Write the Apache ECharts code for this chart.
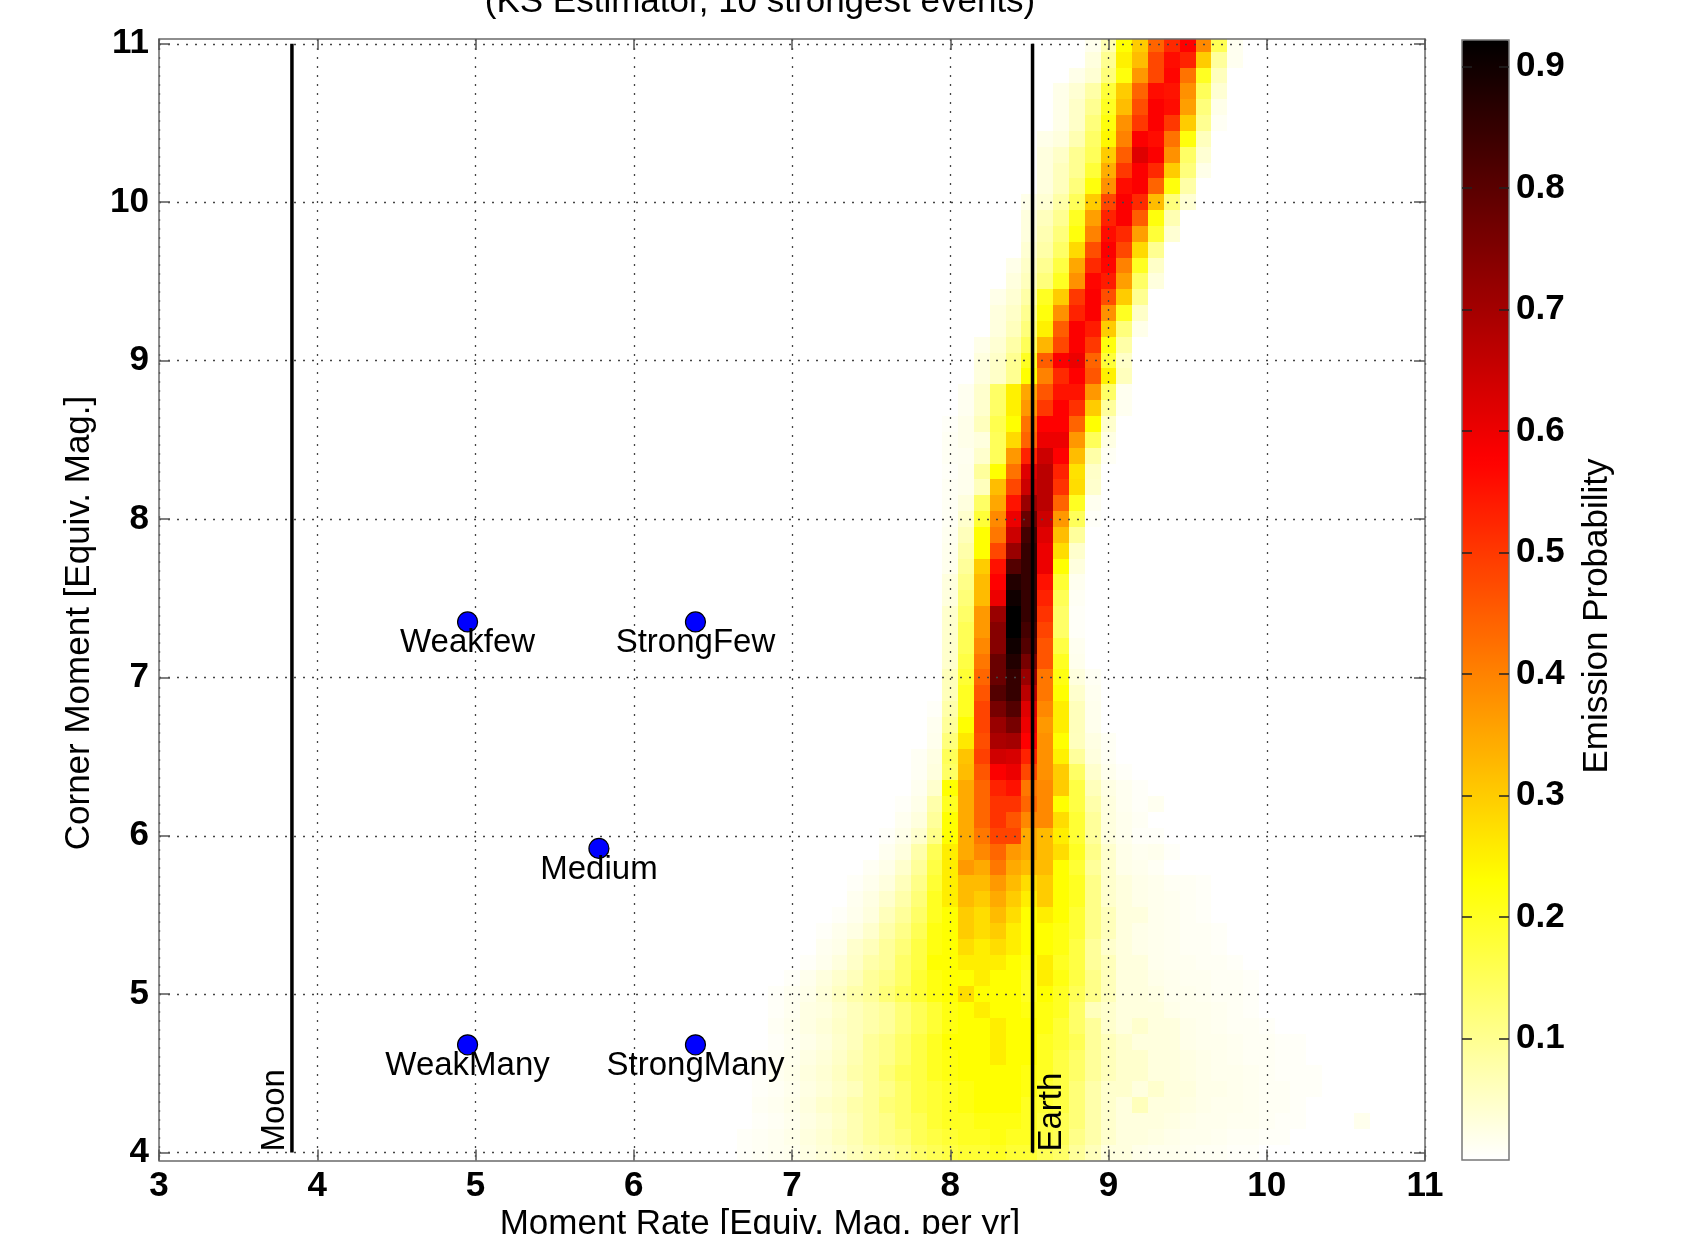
<!DOCTYPE html>
<html>
<head>
<meta charset="utf-8">
<script src="https://cdn.jsdelivr.net/npm/echarts@6/dist/echarts.min.js"></script>
<style>
html,body{margin:0;padding:0;background:#ffffff;}
#chart{width:1700px;height:1234px;}
</style>
</head>
<body>
<div id="chart"></div>
<script>
// ---------------- data ----------------
const titleText = '(KS Estimator, 10 strongest events)';
const xAxisTitle = 'Moment Rate [Equiv. Mag. per yr]';
const yAxisTitle = 'Corner Moment [Equiv. Mag.]';
const cbTitle = 'Emission Probability';

const xTicks = [3, 4, 5, 6, 7, 8, 9, 10, 11];
const yTicks = [4, 5, 6, 7, 8, 9, 10, 11];
const cbTicks = [0.1, 0.2, 0.3, 0.4, 0.5, 0.6, 0.7, 0.8, 0.9];
const xRange = [3, 11];
const yRange = [3.95, 11.03];
const probRange = [0, 0.922];
const cellStep = 0.1;

// heat-map rows: centre y of the row, x of first cell, cell probabilities (step 0.1 in x)
const rowY = [11.0,10.9,10.8,10.7,10.6,10.5,10.4,10.3,10.2,10.1,10.0,9.9,9.8,9.7,9.6,9.5,9.4,9.3,9.2,9.1,9.0,8.9,8.8,8.7,8.6,8.5,8.4,8.3,8.2,8.1,8.0,7.9,7.8,7.7,7.6,7.5,7.4,7.3,7.2,7.1,7.0,6.9,6.8,6.7,6.6,6.5,6.4,6.3,6.2,6.1,6.0,5.9,5.8,5.7,5.6,5.5,5.4,5.3,5.2,5.1,5.0,4.9,4.8,4.7,4.6,4.5,4.4,4.3,4.2,4.1,4.0];
const rowX0 = [8.9,8.9,8.8,8.7,8.7,8.7,8.6,8.6,8.6,8.6,8.5,8.5,8.5,8.5,8.4,8.4,8.3,8.3,8.3,8.2,8.2,8.2,8.1,8.1,8.0,8.0,8.0,8.0,8.0,8.0,8.0,8.0,8.0,8.0,8.0,8.0,8.0,8.0,8.0,8.0,8.0,8.0,7.9,7.9,7.9,7.8,7.8,7.8,7.7,7.7,7.6,7.6,7.5,7.4,7.4,7.3,7.2,7.2,7.1,7.0,6.9,6.9,6.9,6.9,6.8,6.8,6.8,6.8,6.8,6.7,6.7];
const rowP = [
[.016,.07,.23,.30,.44,.52,.576,.39,.154,.014],
[.03,.10,.25,.32,.48,.56,.53,.30,.09,.014],
[.02,.04,.12,.22,.37,.48,.57,.42,.20,.06],
[.02,.04,.08,.18,.30,.44,.56,.55,.38,.15,.04],
[.02,.05,.10,.20,.32,.47,.58,.56,.36,.12,.02],
[.02,.05,.12,.22,.38,.50,.58,.50,.30,.10,.01],
[.02,.03,.07,.14,.24,.40,.58,.56,.42,.22,.06],
[.03,.05,.10,.15,.30,.45,.62,.58,.38,.14,.04],
[.03,.06,.10,.18,.34,.50,.58,.52,.30,.12,.02],
[.03,.06,.12,.22,.38,.56,.58,.44,.22,.08],
[.02,.04,.08,.15,.30,.48,.58,.52,.32,.12,.04],
[.03,.06,.10,.20,.36,.53,.58,.45,.22,.07],
[.03,.07,.12,.22,.40,.56,.52,.36,.18,.04],
[.04,.08,.14,.28,.47,.58,.48,.28,.10],
[.02,.05,.10,.17,.35,.52,.57,.40,.20,.05],
[.03,.06,.12,.20,.38,.57,.54,.36,.14,.03],
[.02,.04,.08,.20,.30,.50,.58,.47,.30,.10],
[.03,.05,.10,.22,.38,.53,.58,.38,.20,.05],
[.03,.06,.12,.25,.45,.58,.54,.30,.12,.02],
[.02,.04,.08,.15,.33,.48,.58,.50,.22,.08],
[.03,.05,.10,.20,.45,.58,.60,.44,.18,.05],
[.03,.05,.10,.23,.40,.52,.576,.46,.25,.06],
[.014,.045,.14,.25,.35,.46,.55,.55,.37,.14,.014],
[.014,.045,.14,.25,.37,.50,.576,.51,.30,.09,.014],
[.006,.02,.06,.16,.23,.42,.576,.576,.44,.23,.045],
[.01,.02,.03,.15,.28,.44,.60,.60,.37,.15,.025],
[.01,.014,.045,.15,.37,.53,.645,.576,.32,.08,.01],
[.006,.016,.09,.23,.42,.62,.67,.53,.27,.05],
[.01,.016,.06,.32,.48,.645,.67,.507,.277,.045],
[.01,.03,.14,.35,.55,.715,.67,.44,.20,.014],
[.01,.045,.18,.39,.60,.78,.645,.37,.15,.006],
[.014,.062,.23,.415,.645,.83,.62,.32,.09],
[.016,.077,.23,.48,.715,.85,.60,.277,.045],
[.016,.092,.30,.553,.81,.85,.60,.23,.03],
[.03,.108,.323,.576,.876,.85,.553,.184,.014],
[.03,.123,.323,.60,.90,.85,.53,.154,.01],
[.045,.138,.369,.715,.922,.85,.507,.138,.006],
[.045,.154,.369,.74,.922,.83,.484,.138,.006],
[.045,.154,.392,.74,.90,.81,.461,.169,.014],
[.045,.169,.415,.78,.876,.76,.461,.20,.016],
[.062,.184,.438,.78,.85,.715,.415,.215,.03,.01],
[.062,.20,.461,.81,.85,.67,.415,.23,.045,.014],
[.006,.077,.20,.484,.76,.81,.62,.392,.254,.062,.016],
[.014,.092,.23,.484,.715,.76,.60,.369,.254,.062,.016],
[.016,.12,.26,.47,.69,.70,.576,.38,.23,.06,.025,.01],
[.01,.025,.15,.31,.49,.64,.63,.53,.38,.25,.09,.03,.01],
[.01,.03,.14,.32,.46,.58,.60,.48,.38,.30,.14,.045,.016,.006],
[.014,.045,.23,.346,.438,.53,.553,.415,.39,.30,.169,.062,.025,.014,.006],
[.006,.02,.077,.20,.346,.438,.507,.507,.438,.39,.23,.169,.077,.03,.014,.006,.014],
[.014,.03,.092,.23,.346,.438,.507,.461,.392,.39,.277,.184,.092,.03,.016,.01],
[.006,.02,.045,.108,.23,.346,.415,.484,.484,.346,.323,.254,.184,.092,.03,.016,.006,.006],
[.014,.03,.077,.154,.254,.346,.392,.438,.369,.346,.323,.277,.20,.108,.045,.02,.014,.016,.006],
[.01,.02,.045,.092,.169,.254,.369,.346,.415,.346,.323,.323,.23,.184,.092,.045,.02,.016,.01],
[.006,.016,.03,.062,.108,.184,.254,.323,.323,.369,.323,.277,.30,.23,.20,.108,.045,.03,.02,.016,.01,.01,.006],
[.014,.025,.045,.077,.123,.20,.254,.323,.30,.346,.30,.254,.30,.23,.20,.108,.045,.03,.02,.016,.014,.01,.006],
[.006,.016,.03,.062,.092,.138,.20,.23,.30,.277,.323,.277,.23,.254,.23,.184,.108,.062,.03,.03,.016,.014,.01,.006],
[.006,.016,.025,.045,.077,.108,.154,.215,.23,.30,.277,.30,.254,.23,.23,.215,.184,.108,.062,.03,.02,.016,.014,.01,.01,.006],
[.014,.02,.045,.062,.092,.123,.169,.215,.23,.277,.254,.277,.254,.23,.23,.215,.169,.092,.045,.03,.02,.016,.014,.01,.01,.006],
[.006,.016,.03,.05,.077,.092,.138,.169,.23,.23,.254,.254,.254,.23,.215,.254,.20,.169,.092,.062,.03,.03,.016,.014,.014,.01,.01,.006],
[.006,.016,.03,.045,.062,.092,.108,.138,.184,.215,.23,.23,.254,.23,.23,.20,.254,.215,.169,.108,.062,.03,.03,.02,.016,.014,.014,.01,.01,.006],
[.006,.014,.02,.035,.055,.077,.092,.123,.154,.184,.215,.23,.277,.23,.23,.23,.20,.23,.20,.154,.108,.062,.03,.03,.025,.016,.016,.014,.01,.01,.006],
[.006,.014,.025,.03,.045,.062,.077,.092,.123,.154,.184,.215,.23,.254,.23,.23,.215,.215,.20,.138,.062,.045,.03,.03,.03,.02,.016,.016,.014,.01,.006],
[.01,.016,.025,.035,.05,.062,.077,.092,.123,.154,.184,.215,.23,.23,.254,.23,.23,.215,.184,.138,.092,.045,.03,.045,.03,.03,.02,.016,.014,.01,.01,.006],
[.006,.014,.02,.03,.045,.062,.092,.108,.138,.169,.20,.23,.23,.23,.254,.23,.23,.20,.184,.154,.092,.062,.045,.03,.03,.03,.02,.016,.016,.014,.01,.01,.006,.006],
[.006,.01,.016,.025,.035,.05,.07,.092,.108,.138,.169,.20,.215,.23,.23,.254,.23,.23,.20,.169,.138,.092,.062,.045,.045,.03,.03,.025,.02,.016,.014,.01,.01,.006,.006],
[.006,.014,.02,.03,.04,.055,.077,.092,.123,.154,.169,.20,.215,.23,.23,.23,.23,.215,.20,.169,.138,.092,.062,.045,.045,.03,.03,.025,.02,.016,.016,.014,.01,.006,.006,.006],
[.006,.01,.016,.025,.035,.05,.062,.092,.108,.138,.169,.184,.20,.215,.23,.23,.23,.215,.184,.169,.123,.077,.045,.045,.03,.045,.03,.03,.02,.02,.016,.014,.01,.01,.006,.006],
[.01,.014,.02,.03,.045,.055,.077,.092,.123,.138,.169,.184,.20,.215,.23,.23,.23,.20,.184,.169,.123,.077,.045,.03,.062,.03,.03,.025,.02,.016,.016,.014,.01,.01,.006],
[.006,.01,.016,.025,.035,.05,.07,.092,.108,.138,.154,.184,.20,.20,.215,.215,.215,.20,.169,.154,.123,.077,.045,.03,.03,.03,.025,.02,.016,.016,.014,.014,.01,.006,.006,0,0,0,.016],
[.006,.01,.014,.02,.03,.04,.055,.07,.092,.108,.123,.154,.169,.184,.20,.20,.215,.20,.20,.169,.154,.108,.077,.045,.03,.03,.025,.02,.016,.016,.014,.01,.01,.006,.006],
[.006,.01,.014,.016,.025,.035,.045,.062,.077,.092,.108,.138,.154,.169,.184,.184,.20,.184,.184,.154,.138,.092,.062,.03,.03,.02,.016,.016,.014,.01,.01,.006,.006]
];

// labelled points
const siteNames = ['Weakfew', 'StrongFew', 'Medium', 'WeakMany', 'StrongMany'];
const siteX = [4.95, 6.39, 5.78, 4.95, 6.39];
const siteY = [7.35, 7.35, 5.92, 4.68, 4.68];

// vertical reference lines
const bodyNames = ['Moon', 'Earth'];
const bodyX = [3.84, 8.52];
const bodyYSpan = [4, 11];

// ---------------- build ----------------
const FONT = "'Liberation Sans', Arial, Helvetica, sans-serif";
const hotColors = ['#ffffff','#ffff80','#ffff00','#ffaa00','#ff5500','#ff0000','#aa0000','#550000','#000000'];

const cells = [];
rowP.forEach((vals, r) => {
  vals.forEach((p, k) => {
    if (p > 0) {
      const x = Math.round((rowX0[r] + k * cellStep) * 10) / 10;
      cells.push([x, rowY[r], p]);
    }
  });
});

const points = siteNames.map((n, i) => ({ name: n, value: [siteX[i], siteY[i]] }));

const GRID = { left: 159, top: 39, right: 275, bottom: 73.5 };
const CB = { left: 1462, top: 40, width: 47, height: 1120 };

const axisLineStyle = { color: '#6a6a6a', width: 1.5 };
const tickStyle = { color: '#555', width: 1.5 };
const gridLineStyle = { type: [2, 7], color: '#444', width: 1.3 };
const tickFont = { fontFamily: FONT, fontSize: 35, fontWeight: 'bold', color: '#000' };

const chart = echarts.init(document.getElementById('chart'), null, { renderer: 'canvas' });

const option = {
  animation: false,
  backgroundColor: '#ffffff',
  grid: [
    { left: GRID.left, top: GRID.top, right: GRID.right, bottom: GRID.bottom, containLabel: false },
    { left: CB.left, top: CB.top, width: CB.width, height: CB.height, show: true,
      borderColor: '#777', borderWidth: 1.5, z: 10 }
  ],
  visualMap: {
    type: 'continuous', min: probRange[0], max: probRange[1], dimension: 2, seriesIndex: 0,
    calculable: false, hoverLink: false, orient: 'vertical', left: CB.left, top: CB.top,
    itemWidth: CB.width, itemHeight: CB.height, padding: 0, text: null, showLabel: false,
    inRange: { color: hotColors }
  },
  xAxis: [
    { gridIndex: 0, type: 'value', min: xRange[0], max: xRange[1], interval: 1, position: 'bottom', z: 3,
      axisLine: { show: true, onZero: false, lineStyle: axisLineStyle },
      axisTick: { show: true, inside: true, length: 11, lineStyle: tickStyle },
      axisLabel: Object.assign({ margin: 8, customValues: xTicks }, tickFont),
      splitLine: { show: true, lineStyle: gridLineStyle } },
    { gridIndex: 0, type: 'value', min: xRange[0], max: xRange[1], interval: 1, position: 'top', z: 3,
      axisLine: { show: true, onZero: false, lineStyle: axisLineStyle },
      axisTick: { show: true, inside: true, length: 11, lineStyle: tickStyle },
      axisLabel: { show: false }, splitLine: { show: false } },
    { gridIndex: 1, type: 'value', min: 0, max: 1, show: false }
  ],
  yAxis: [
    { gridIndex: 0, type: 'value', min: yRange[0], max: yRange[1], position: 'left', z: 3,
      axisLine: { show: true, onZero: false, lineStyle: axisLineStyle },
      axisTick: { show: true, inside: true, length: 11, lineStyle: tickStyle, customValues: yTicks },
      axisLabel: Object.assign({ margin: 10, customValues: yTicks }, tickFont),
      splitLine: { show: true, lineStyle: gridLineStyle } },
    { gridIndex: 0, type: 'value', min: yRange[0], max: yRange[1], position: 'right', z: 3,
      axisLine: { show: true, onZero: false, lineStyle: axisLineStyle },
      axisTick: { show: true, inside: true, length: 11, lineStyle: tickStyle, customValues: yTicks },
      axisLabel: { show: false }, splitLine: { show: false } },
    { gridIndex: 1, type: 'value', min: probRange[0], max: probRange[1], position: 'left', z: 11,
      axisLine: { show: false },
      axisTick: { show: true, inside: true, length: 10, lineStyle: { color: '#222', width: 1.5 }, customValues: cbTicks },
      axisLabel: { show: false }, splitLine: { show: false } },
    { gridIndex: 1, type: 'value', min: probRange[0], max: probRange[1], position: 'right', z: 11,
      axisLine: { show: false },
      axisTick: { show: true, inside: true, length: 10, lineStyle: { color: '#222', width: 1.5 }, customValues: cbTicks },
      axisLabel: Object.assign({ margin: 7, customValues: cbTicks, formatter: v => Number(v).toFixed(1) }, tickFont),
      splitLine: { show: false } }
  ],
  series: [
    {
      type: 'custom', name: 'prob', xAxisIndex: 0, yAxisIndex: 0, z: 2,
      data: cells, encode: { x: 0, y: 1 },
      renderItem: function (params, api) {
        const x = api.value(0), y = api.value(1);
        const a = api.coord([x - cellStep / 2, y + cellStep / 2]);
        const b = api.coord([x + cellStep / 2, y - cellStep / 2]);
        const x0 = Math.round(a[0]), y0 = Math.round(a[1]);
        const x1 = Math.round(b[0]), y1 = Math.round(b[1]);
        const rect = echarts.graphic.clipRectByRect(
          { x: x0, y: y0, width: x1 - x0, height: y1 - y0 },
          { x: params.coordSys.x, y: params.coordSys.y, width: params.coordSys.width, height: params.coordSys.height });
        if (!rect) return null;
        return { type: 'rect', shape: rect, style: { fill: api.visual('color'), stroke: null } };
      }
    },
    ...bodyNames.map((n, i) => ({
      type: 'line', name: n, xAxisIndex: 0, yAxisIndex: 0, z: 5,
      data: [[bodyX[i], bodyYSpan[0]], [bodyX[i], bodyYSpan[1]]],
      showSymbol: false, symbol: 'none', silent: true,
      lineStyle: { color: '#000', width: 3.5 }
    })),
    {
      type: 'scatter', name: 'sites', xAxisIndex: 0, yAxisIndex: 0, z: 6,
      data: points, symbol: 'circle', symbolSize: 20,
      itemStyle: { color: '#0000ff', borderColor: '#000', borderWidth: 1.2, opacity: 1 },
      label: { show: true, position: 'bottom', distance: -6, formatter: p => p.name,
               fontFamily: FONT, fontSize: 33, color: '#000' }
    }
  ]
};
chart.setOption(option);

// texts placed through the chart's own coordinate conversion
const graphics = [];
bodyNames.forEach((n, i) => {
  const p = chart.convertToPixel({ gridIndex: 0 }, [bodyX[i], bodyYSpan[0]]);
  const left = i === 0;
  graphics.push({
    type: 'text', x: left ? p[0] - 1 : p[0] + 3, y: p[1] - 1, rotation: Math.PI / 2, z: 20,
    style: { text: n, fontFamily: FONT, fontSize: 33, fill: '#000',
             align: 'left', verticalAlign: left ? 'bottom' : 'top' }
  });
});
graphics.push({ type: 'text', x: 760, y: -15, z: 20,
  style: { text: titleText, fontFamily: FONT, fontSize: 35, fill: '#000', align: 'center', verticalAlign: 'top' } });
graphics.push({ type: 'text', x: 760, y: 1207, z: 20,
  style: { text: xAxisTitle, fontFamily: FONT, fontSize: 35, fill: '#000', align: 'center', verticalAlign: 'top' } });
graphics.push({ type: 'text', x: 79, y: 623, rotation: Math.PI / 2, z: 20,
  style: { text: yAxisTitle, fontFamily: FONT, fontSize: 35, fill: '#000', align: 'center', verticalAlign: 'middle' } });
graphics.push({ type: 'text', x: 1597, y: 616, rotation: Math.PI / 2, z: 20,
  style: { text: cbTitle, fontFamily: FONT, fontSize: 35, fill: '#000', align: 'center', verticalAlign: 'middle' } });
chart.setOption({ graphic: graphics });
</script>
</body>
</html>
